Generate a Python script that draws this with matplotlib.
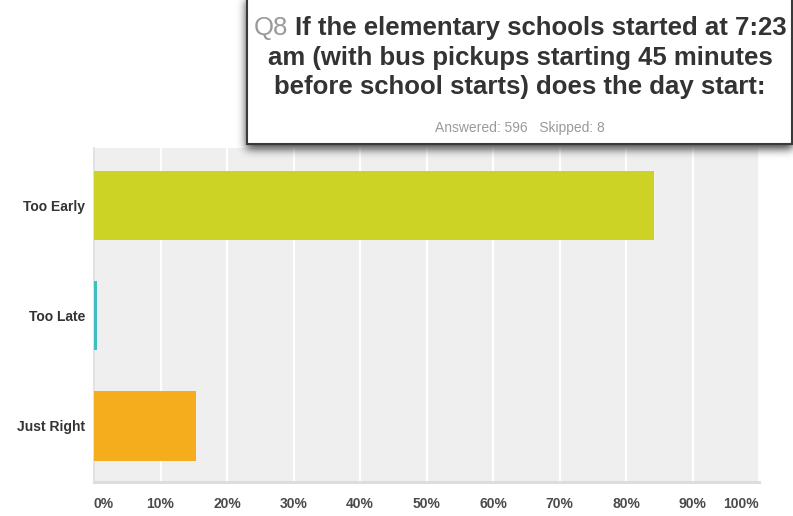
import numpy as np
import matplotlib
matplotlib.use("Agg")
import matplotlib.pyplot as plt
from matplotlib.patches import Rectangle

# Survey results, Q8
categories = ["Too Early", "Too Late", "Just Right"]
responses = [502, 3, 91]
answered = 596
skipped = 8
bar_colors = ["#CDD325", "#3CBFC0", "#F5AC1D"]
x_ticks = [0, 10, 20, 30, 40, 50, 60, 70, 80, 90, 100]
x_tick_labels = [f"{t}%" for t in x_ticks]
title_num = "Q8"
title_lines = [
    "If the elementary schools started at 7:23",
    "am (with bus pickups starting 45 minutes",
    "before school starts) does the day start:",
]

shares = [100 * n / answered for n in responses]

plt.rcParams["font.family"] = ["Liberation Sans", "DejaVu Sans"]

W, H = 793, 516
fig = plt.figure(figsize=(W / 100, H / 100), dpi=100)
fig.patch.set_facecolor("white")

ax = fig.add_axes([94 / W, 1 - 482 / H, 665 / W, 334 / H])
ax.set_facecolor("#EFEFEF")
ypos = np.arange(len(categories))
ax.barh(ypos, shares, height=0.63, color=bar_colors, zorder=3)
ax.set_xlim(0, 100)
ax.set_ylim(2.51, -0.52)
ax.set_xticks(x_ticks)
ax.set_xticklabels(x_tick_labels)
ax.set_yticks(ypos)
ax.set_yticklabels(categories, fontsize=10, fontweight="bold", color="#333333")
ax.tick_params(axis="y", length=0, pad=6.5)
ax.tick_params(axis="x", length=0, pad=11, labelsize=10, labelcolor="#4a4a4a")
for lab in ax.get_xticklabels():
    lab.set_fontweight("bold")
labs = ax.get_xticklabels()
labs[0].set_horizontalalignment("left")
labs[-1].set_horizontalalignment("right")
ax.grid(axis="x", color="white", linewidth=1.6, zorder=1)
ax.set_axisbelow(True)
for s in ["top", "right"]:
    ax.spines[s].set_visible(False)
ax.spines["left"].set_color("#DDDDDD")
ax.spines["left"].set_linewidth(1.2)
ax.spines["bottom"].set_color("#DDDDDD")
ax.spines["bottom"].set_linewidth(2.2)

# header card with soft drop shadow
bx0, bx1, by1 = 247, 792, 144


def blur(a, sigma):
    r = int(3 * sigma)
    k = np.exp(-0.5 * (np.arange(-r, r + 1) / sigma) ** 2)
    k /= k.sum()
    a = np.apply_along_axis(lambda m: np.convolve(m, k, mode="same"), 0, a)
    a = np.apply_along_axis(lambda m: np.convolve(m, k, mode="same"), 1, a)
    return a


mask = np.zeros((H, W))
mask[0:by1 + 5, bx0 - 1:W] = 1.0
mask = blur(mask, 4.5)
shadow = np.zeros((H, W, 4))
shadow[..., 3] = mask * 0.75
fig.figimage(shadow, xo=0, yo=0, origin="upper", zorder=3)

card = Rectangle((bx0 / W, 1 - by1 / H), (bx1 - bx0) / W, by1 / H + 0.01,
                 transform=fig.transFigure, facecolor="white",
                 edgecolor="#3a3a3a", linewidth=1.5, zorder=4)
fig.patches.append(card)

cx = 520
tsize = 18.5
renderer = fig.canvas.get_renderer()
tq = fig.text(0, 0, title_num, fontsize=tsize, color="#9a9a9a", zorder=5)
tr = fig.text(0, 0, title_lines[0], fontsize=tsize, fontweight="bold",
              color="#333333", zorder=5)
wq = tq.get_window_extent(renderer).width
wr = tr.get_window_extent(renderer).width
gap = 0.28 * tsize * 100 / 72
x_start = cx - (wq + gap + wr) / 2
tq.set_position((x_start / W, 1 - 35 / H))
tq.set_va("baseline")
tr.set_position(((x_start + wq + gap) / W, 1 - 35 / H))
tr.set_va("baseline")

for line, base in zip(title_lines[1:], [64.5, 94]):
    fig.text(cx / W, 1 - base / H, line, fontsize=tsize, fontweight="bold",
             color="#333333", ha="center", va="baseline", zorder=5)

fig.text(cx / W, 1 - 132 / H, f"Answered: {answered}   Skipped: {skipped}",
         fontsize=10, color="#9a9a9a", ha="center", va="baseline", zorder=5)

fig.savefig("out.png", dpi=100)
